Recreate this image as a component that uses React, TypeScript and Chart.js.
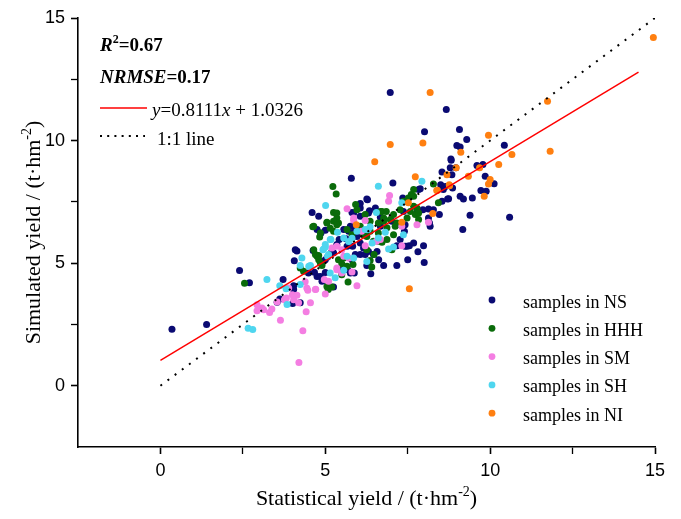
import { useEffect, useRef } from 'react';
import { Chart, registerables } from 'chart.js';

Chart.register(...registerables);

const seriesNames = ['samples in NS', 'samples in HHH', 'samples in SM', 'samples in SH', 'samples in NI'];
const seriesColors = ['#0a0a72', '#0a6b0a', '#f47ee2', '#4fd6ef', '#ff7f10'];

const nsPoints: [number, number][] = [
  [0.35, 2.3], [1.4, 2.5], [2.4, 4.7], [2.7, 4.2], [3.72, 4.33], [4.04, 3.92], [3.62, 3.54], [3.54, 3.4],
  [4.01, 3.35], [4.14, 5.5], [4.06, 5.1], [4.49, 4.6], [4.75, 4.46], [4.9, 4.26], [5.0, 4.62], [5.45, 4.73],
  [5.68, 4.73], [5.76, 4.6], [5.07, 5.25], [5.25, 5.42], [5.79, 8.46], [5.81, 7.07], [4.6, 7.07], [4.8, 6.91],
  [5.0, 6.34], [5.76, 6.5], [5.91, 6.37], [6.01, 6.23], [4.09, 5.55], [4.63, 5.52], [5.42, 5.96], [5.63, 5.99],
  [7.05, 8.27], [8.54, 8.72], [8.79, 8.89], [8.82, 9.2], [9.09, 9.74], [8.5, 8.2], [8.58, 8.0], [8.71, 7.62],
  [8.28, 7.18], [8.13, 6.84], [8.16, 6.64], [7.96, 7.18], [7.78, 7.07], [6.28, 7.59], [6.06, 7.43], [6.67, 6.87],
  [6.52, 7.25], [6.34, 7.14], [7.98, 5.71], [7.27, 5.96], [7.42, 5.69], [7.81, 5.46], [7.5, 5.14], [8.0, 5.03],
  [7.17, 4.9], [7.55, 5.71], [7.17, 5.71], [6.38, 4.57], [6.26, 4.9], [5.88, 4.6], [6.57, 5.48], [6.06, 5.35],
  [6.21, 5.35], [5.91, 5.35], [8.67, 11.27], [9.07, 10.45], [9.29, 10.04], [8.99, 9.8], [10.43, 9.81], [8.81, 9.25],
  [8.96, 8.89], [8.84, 8.61], [9.6, 8.98], [9.78, 9.02], [9.85, 8.54], [10.12, 8.24], [9.72, 7.96], [9.88, 7.93],
  [9.09, 7.73], [9.19, 7.62], [9.46, 7.66], [8.74, 7.63], [8.54, 7.52], [8.86, 8.07], [8.64, 8.13], [9.39, 6.95],
  [10.59, 6.87], [9.17, 6.37], [6.97, 11.96], [8.01, 10.36], [7.35, 7.66], [7.88, 8.03], [8.18, 6.5], [6.26, 7.62],
  [5.86, 7.05], [6.06, 6.91], [7.83, 8.0], [8.46, 6.98], [8.13, 7.21], [7.4, 6.3], [5.83, 5.69], [5.81, 5.14],
  [4.67, 4.63], [4.04, 4.08], [4.24, 3.38], [5.25, 4.03], [4.75, 6.37], [4.87, 6.23], [5.56, 6.37], [5.71, 6.3],
  [5.86, 6.5], [5.96, 6.09], [6.06, 5.82], [6.16, 5.62], [6.31, 5.48], [6.46, 5.35], [6.62, 5.14], [6.77, 4.9],
  [7.48, 5.69], [7.68, 5.82], [7.42, 6.57], [7.02, 6.71], [6.67, 6.5], [7.37, 7.11], [6.31, 7.05], [6.06, 7.25],
  [5.35, 5.76], [5.2, 5.48], [5.0, 5.14], [4.85, 4.46], [5.66, 5.69],
];

const hhhPoints: [number, number][] = [
  [2.55, 4.18], [4.34, 4.67], [4.75, 5.28], [4.85, 5.01], [5.05, 4.05], [5.2, 4.03], [5.5, 4.53], [5.69, 4.23],
  [5.5, 4.98], [5.23, 8.13], [5.33, 7.82], [5.92, 7.39], [5.25, 7.07], [5.35, 6.84], [5.4, 6.64], [5.05, 6.67],
  [4.62, 6.48], [5.15, 6.42], [5.25, 6.3], [4.85, 6.23], [4.83, 6.07], [4.65, 5.55], [4.8, 5.31], [8.28, 8.23],
  [8.43, 7.46], [7.68, 8.0], [7.61, 7.8], [7.52, 7.66], [6.72, 7.11], [6.85, 7.11], [7.07, 6.98], [6.97, 6.78],
  [6.77, 6.71], [6.61, 6.64], [6.36, 6.71], [6.21, 6.98], [6.06, 6.5], [6.26, 6.09], [6.61, 6.23], [6.87, 6.44],
  [7.17, 6.57], [7.58, 7.11], [7.78, 7.25], [7.73, 6.98], [7.48, 6.84], [7.83, 6.78], [7.07, 6.16], [6.87, 5.96],
  [6.61, 5.89], [6.41, 4.84], [6.36, 5.11], [5.84, 4.94], [6.48, 5.35], [7.02, 5.55], [6.72, 5.85], [4.24, 4.8],
  [4.9, 4.9], [5.09, 3.92], [6.26, 5.55], [6.46, 5.89], [7.68, 7.73], [7.37, 7.52], [7.68, 7.32], [7.83, 7.05],
  [7.27, 7.18], [7.17, 6.64], [7.12, 6.5], [6.67, 7.11], [6.77, 6.84], [5.96, 7.18], [5.35, 7.05], [5.25, 6.71],
  [5.35, 6.57], [5.05, 6.64], [4.65, 6.5], [5.66, 6.37], [5.81, 6.16], [6.16, 6.16], [6.36, 6.3], [4.7, 5.35],
  [4.8, 5.14], [5.4, 5.14], [5.56, 5.21], [5.66, 4.87],
];

const smPoints: [number, number][] = [
  [2.93, 3.3], [2.93, 3.06], [4.39, 4.24], [4.0, 3.71], [4.14, 3.69], [4.04, 3.51], [4.19, 3.38], [4.55, 3.38],
  [4.47, 3.89], [4.71, 3.93], [5.0, 3.74], [4.42, 3.02], [3.64, 2.67], [3.76, 3.51], [3.08, 3.17], [3.13, 3.1],
  [3.31, 2.99], [3.38, 3.13], [4.32, 2.24], [4.2, 0.95], [5.1, 4.26], [4.97, 4.33], [5.35, 4.8], [5.96, 4.08],
  [5.66, 7.22], [5.2, 5.62], [5.35, 5.69], [5.5, 5.55], [5.86, 6.84], [6.95, 7.76], [6.92, 7.52], [6.21, 6.74],
  [6.1, 6.3], [7.78, 6.57], [7.32, 5.71], [8.13, 6.67], [5.81, 4.64], [6.21, 5.71], [5.86, 6.75], [5.56, 5.28],
  [5.71, 5.21], [5.35, 4.73], [5.5, 4.6], [4.7, 3.92], [7.32, 6.5], [6.55, 5.89], [6.67, 5.96], [4.44, 3.99],
  [3.89, 3.99], [3.82, 3.58], [3.54, 3.42],
];

const shPoints: [number, number][] = [
  [2.66, 2.34], [2.8, 2.29], [3.23, 4.33], [3.62, 4.08], [3.81, 3.96], [4.24, 4.13], [3.84, 3.31], [4.29, 5.21],
  [4.24, 4.9], [4.55, 4.9], [5.3, 4.4], [5.66, 5.28], [5.86, 5.21], [5.01, 7.35], [5.37, 6.26], [5.15, 5.96],
  [5.0, 5.66], [4.93, 5.55], [5.71, 5.88], [5.81, 6.02], [5.07, 5.28], [7.93, 8.34], [6.61, 8.14], [7.32, 7.46],
  [6.55, 7.07], [6.3, 6.37], [7.37, 6.16], [6.92, 5.58], [6.26, 5.07], [6.42, 5.82], [6.82, 6.26], [6.61, 6.03],
  [6.36, 6.48], [6.21, 6.37], [5.96, 6.3], [5.56, 6.03], [5.17, 5.96], [4.95, 5.58], [5.0, 5.76], [5.1, 5.35],
  [7.07, 5.66], [5.56, 4.71], [4.5, 4.87], [5.15, 4.6],
];

const niPoints: [number, number][] = [
  [6.97, 9.84], [7.96, 9.9], [6.5, 9.14], [7.73, 8.52], [8.69, 8.61], [8.97, 8.89], [8.76, 8.2], [8.4, 7.97],
  [7.52, 7.46], [7.32, 6.67], [5.94, 6.57], [8.26, 7.02], [7.55, 3.96], [11.74, 11.6], [11.82, 9.56], [9.95, 10.22],
  [9.11, 9.52], [10.66, 9.43], [10.26, 9.02], [9.68, 8.89], [9.34, 8.54], [10.0, 8.41], [9.95, 8.23], [9.82, 7.73],
  [8.77, 8.16], [8.18, 11.96], [14.95, 14.2], [8.38, 7.96],
];

const seriesPoints = [nsPoints, hhhPoints, smPoints, shPoints, niPoints];

const fitSlope = 0.8111;
const fitIntercept = 1.0326;
const fitXRange = [0, 14.5];
const identityRange = [0, 15];
const axisMin = -2.5;
const axisMax = 15;
const tickStep = 2.5;
const labelStep = 5;

const statLines = [
  [{ t: 'R', b: true, i: true }, { t: '2', b: true, sup: true }, { t: '=0.67', b: true }],
  [{ t: 'NRMSE', b: true, i: true }, { t: '=0.17', b: true }],
  [{ t: 'y', i: true }, { t: '=0.8111' }, { t: 'x', i: true }, { t: ' + 1.0326' }],
  [{ t: '1:1 line' }],
];
const xTitle = [{ t: 'Statistical yield / (t·hm' }, { t: '-2', sup: true }, { t: ')' }];
const yTitle = [{ t: 'Simulated yield / (t·hm' }, { t: '-2', sup: true }, { t: ')' }];

type Seg = { t: string; b?: boolean; i?: boolean; sup?: boolean };

const SERIF = '"Liberation Serif", "Times New Roman", serif';
const SANS = '"Liberation Sans", Arial, sans-serif';

function segFont(s: Seg, size: number) {
  const sz = s.sup ? Math.round(size * 0.62) : size;
  return `${s.i ? 'italic ' : ''}${s.b ? 'bold ' : ''}${sz}px ${SERIF}`;
}
function richWidth(ctx: CanvasRenderingContext2D, segs: Seg[], size: number) {
  let w = 0;
  for (const s of segs) {
    ctx.font = segFont(s, size);
    w += ctx.measureText(s.t).width;
  }
  return w;
}
function drawRich(ctx: CanvasRenderingContext2D, segs: Seg[], x: number, y: number, size: number) {
  ctx.textAlign = 'left';
  ctx.textBaseline = 'alphabetic';
  let cx = x;
  for (const s of segs) {
    ctx.font = segFont(s, size);
    ctx.fillText(s.t, cx, s.sup ? y - size * 0.42 : y);
    cx += ctx.measureText(s.t).width;
  }
}

const overlayPlugin = {
  id: 'overlay',
  afterDraw(chart: any) {
    const ctx: CanvasRenderingContext2D = chart.ctx;
    const { left, right, top, bottom } = chart.chartArea;
    ctx.save();
    ctx.fillStyle = '#000';

    // axis titles
    const tSize = 22;
    const xw = richWidth(ctx, xTitle, tSize);
    drawRich(ctx, xTitle, (left + right) / 2 - xw / 2, bottom + 58, tSize);
    const yw = richWidth(ctx, yTitle, tSize);
    ctx.save();
    ctx.translate(left - 38, (top + bottom) / 2);
    ctx.rotate(-Math.PI / 2);
    drawRich(ctx, yTitle, -yw / 2, 0, tSize);
    ctx.restore();

    // statistics block
    const aSize = 19;
    const ax = left + 22;
    drawRich(ctx, statLines[0], ax, top + 33, aSize);
    drawRich(ctx, statLines[1], ax, top + 64.5, aSize);
    ctx.strokeStyle = '#ff0000';
    ctx.lineWidth = 1.5;
    ctx.beginPath();
    ctx.moveTo(ax, top + 90);
    ctx.lineTo(ax + 47, top + 90);
    ctx.stroke();
    drawRich(ctx, statLines[2], ax + 52, top + 98, aSize);
    ctx.strokeStyle = '#000';
    ctx.lineWidth = 2;
    ctx.setLineDash([2, 5.2]);
    ctx.beginPath();
    ctx.moveTo(ax, top + 118);
    ctx.lineTo(ax + 45, top + 118);
    ctx.stroke();
    ctx.setLineDash([]);
    drawRich(ctx, statLines[3], ax + 57, top + 127, aSize);

    // legend
    const lx = 492;
    const ly0 = 300;
    const lstep = 28.3;
    seriesNames.forEach((name, i) => {
      const y = ly0 + i * lstep;
      ctx.fillStyle = seriesColors[i];
      ctx.beginPath();
      ctx.arc(lx, y, 3.4, 0, Math.PI * 2);
      ctx.fill();
      ctx.fillStyle = '#000';
      drawRich(ctx, [{ t: name }], lx + 31, y + 7.5, 18);
    });
    ctx.restore();
  },
};

export default function App() {
  const ref = useRef<HTMLCanvasElement | null>(null);
  useEffect(() => {
    if (!ref.current) return;
    const pointSets = seriesPoints.map((pts, i) => ({
      label: seriesNames[i],
      data: pts.map(([x, y]) => ({ x, y })),
      backgroundColor: seriesColors[i],
      borderColor: seriesColors[i],
      borderWidth: 0,
      pointRadius: 3.5,
      pointHoverRadius: 3.5,
      clip: false,
      order: 6 - i,
    }));
    const fitLine = {
      label: 'fit',
      data: fitXRange.map((x) => ({ x, y: fitSlope * x + fitIntercept })),
      showLine: true,
      borderColor: '#ff0000',
      backgroundColor: '#ff0000',
      borderWidth: 1.5,
      pointRadius: 0,
      order: 0,
    };
    const identityLine = {
      label: '1:1 line',
      data: identityRange.map((v) => ({ x: v, y: v })),
      showLine: true,
      borderColor: '#000',
      backgroundColor: '#000',
      borderWidth: 2,
      borderDash: [2, 6.9],
      pointRadius: 0,
      order: 1,
    };
    const tickColor = (c: any) => (c.tick && c.tick.value === axisMin ? 'rgba(0,0,0,0)' : '#000');
    const tickWidth = (c: any) => (c.tick && c.tick.value % labelStep === 0 ? 1.6 : 1.3);
    const label = (v: any) => (Number(v) % labelStep === 0 ? String(v) : '');
    const chart = new Chart(ref.current, {
      type: 'scatter',
      data: { datasets: [...pointSets, fitLine, identityLine] as any },
      options: {
        responsive: false,
        animation: false,
        layout: { padding: { top: 18, right: 26, left: 0, bottom: 0 } },
        plugins: { legend: { display: false }, tooltip: { enabled: false } },
        scales: {
          x: {
            type: 'linear',
            min: axisMin,
            max: axisMax,
            ticks: {
              stepSize: tickStep,
              autoSkip: false,
              maxRotation: 0,
              color: '#000',
              padding: 6,
              font: { family: SANS, size: 18 },
              callback: label,
            },
            grid: { drawOnChartArea: false, drawTicks: true, tickLength: 7, tickColor, tickWidth },
            border: { display: true, color: '#000', width: 1.6 },
            afterFit: (s: any) => {
              s.height = 72;
            },
          },
          y: {
            type: 'linear',
            min: axisMin,
            max: axisMax,
            ticks: {
              stepSize: tickStep,
              autoSkip: false,
              color: '#000',
              padding: 6,
              font: { family: SANS, size: 18 },
              callback: label,
            },
            grid: { drawOnChartArea: false, drawTicks: true, tickLength: 7, tickColor, tickWidth },
            border: { display: true, color: '#000', width: 1.6 },
            afterFit: (s: any) => {
              s.width = 78;
            },
          },
        },
      } as any,
      plugins: [overlayPlugin],
    });
    return () => chart.destroy();
  }, []);
  return (
    <div style={{ position: 'fixed', left: 0, top: 0, width: 681, height: 519, background: '#fff' }}>
      <canvas ref={ref} width={681} height={519} />
    </div>
  );
}
